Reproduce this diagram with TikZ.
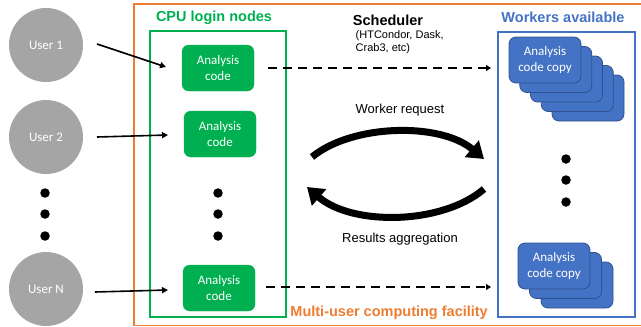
\documentclass[tikz,border=0pt]{standalone}
\usepackage{fontspec}
\setmainfont{Liberation Sans}
\newfontfamily\carl{Carlito}
\usetikzlibrary{arrows.meta}
\definecolor{cgreen}{HTML}{00B050}
\definecolor{corange}{HTML}{ED7D31}
\definecolor{cblue}{HTML}{4472C4}
\definecolor{cbluedark}{HTML}{2F528F}
\definecolor{cgray}{HTML}{A5A5A5}
\tikzset{
  user/.style={circle, fill=cgray, minimum size=74pt, inner sep=0pt, text=white, font=\carl\fontsize{13}{15}\selectfont},
  code/.style={rounded corners=7pt, fill=cgreen, draw=cgreen, minimum width=72pt, minimum height=46pt, inner sep=0pt, text=white, align=center, font=\carl\fontsize{13}{15.5}\selectfont},
  card/.style={rounded corners=7pt, fill=cblue, draw=cbluedark, line width=0.8pt, minimum width=72pt, minimum height=46pt, inner sep=0pt, text=white, align=center, font=\carl\fontsize{13}{15.5}\selectfont},
  dotmark/.style={circle, fill=black, minimum size=9.5pt, inner sep=0pt},
  userarrow/.style={line width=1.6pt, -{Triangle[length=6pt,width=6pt]}},
  dasharrow/.style={line width=1.8pt, dash pattern=on 9pt off 6pt, -{Triangle[length=5pt,width=6pt]}},
  bigarrow/.style={line width=7pt, -{Triangle[length=16pt,width=21pt]}},
  title/.style={font=\bfseries\fontsize{14.5}{17}\selectfont},
  plain/.style={font=\fontsize{13}{15}\selectfont},
}
\begin{document}
\begin{tikzpicture}[x=1pt,y=-1pt]
\useasboundingbox (0,0) rectangle (641,327);
% facility frame
\draw[corange, line width=1.8pt] (641,4) -- (134,4) -- (134,325.5) -- (641,325.5);
% CPU login nodes
\draw[cgreen, line width=1.8pt] (150,31) rectangle (286,317);
\node[title, text=cgreen] (cputitle) at (214,18) {CPU login nodes};
% workers
\draw[cblue, line width=1.8pt] (498,32) rectangle (635,317);
\node[title, text=cblue] (wtitle) at (563,17) {Workers available};
% users
\node[user] (u1) at (46,45) {User 1};
\node[user] (u2) at (46,137) {User 2};
\node[user] (uN) at (46,289) {User N};
\node[dotmark] (ud1) at (45,193) {};
\node[dotmark] (ud2) at (45,214) {};
\node[dotmark] (ud3) at (45,236) {};
% analysis code
\node[code] (c1) at (218,68) {Analysis\\code};
\node[code] (c2) at (220,134) {Analysis\\code};
\node[code] (cN) at (219,288) {Analysis\\code};
\node[dotmark] (cd1) at (218,193) {};
\node[dotmark] (cd2) at (218,214) {};
\node[dotmark] (cd3) at (218,236) {};
% worker cards top stack
\foreach \k in {4,3,2,1} {
  \node[card] (ta\k) at ({545+10.75*\k},{60+9.5*\k}) {};
}
\node[card] (t0) at (545,60) {Analysis\\code copy};
\node[dotmark] (wd1) at (566,159) {};
\node[dotmark] (wd2) at (566,180) {};
\node[dotmark] (wd3) at (566,202) {};
% bottom stack
\foreach \k in {2,1} {
  \node[card] (ba\k) at ({554+11.5*\k},{266+9.5*\k}) {};
}
\node[card] (b0) at (554,266) {Analysis\\code copy};
% user arrows
\coordinate (e1) at (166,67);
\coordinate (e2) at (168,135);
\coordinate (eN) at (168,290);
\draw[userarrow] (97,44) -- (e1);
\draw[userarrow] (97,137) -- (e2);
\draw[userarrow] (95,292) -- (eN);
% dashed arrows
\coordinate (d1) at (491,68);
\coordinate (dN) at (491,287);
\draw[dasharrow] (c1.east) ++(14,0) -- (d1);
\draw[dasharrow] (cN.east) ++(11,-1) -- (dN);
% scheduler
\node[font=\bfseries\fontsize{14.5}{17}\selectfont] (sched) at (388,20) {Scheduler};
\node[anchor=north west, align=left, inner sep=0pt, font=\fontsize{11}{13.5}\selectfont] (schedsub) at (355.5,30) {(HTCondor, Dask,\\Crab3, etc)};
% big arrows
\coordinate (a1s) at (312,157);
\coordinate (a1e) at (484,159);
\coordinate (a2s) at (484,189);
\coordinate (a2e) at (307,187);
\draw[bigarrow] (a1s) .. controls (352,124) and (440,122) .. (a1e);
\draw[bigarrow] (a2s) .. controls (442,225) and (352,226) .. (a2e);
\node[plain] (wreq) at (400,110) {Worker request};
\node[plain] (ragg) at (400,239) {Results aggregation};
% facility title
\node[title, text=corange, anchor=east, inner sep=0pt] (ftitle) at (488,313) {Multi-user computing facility};
\end{tikzpicture}
\end{document}
